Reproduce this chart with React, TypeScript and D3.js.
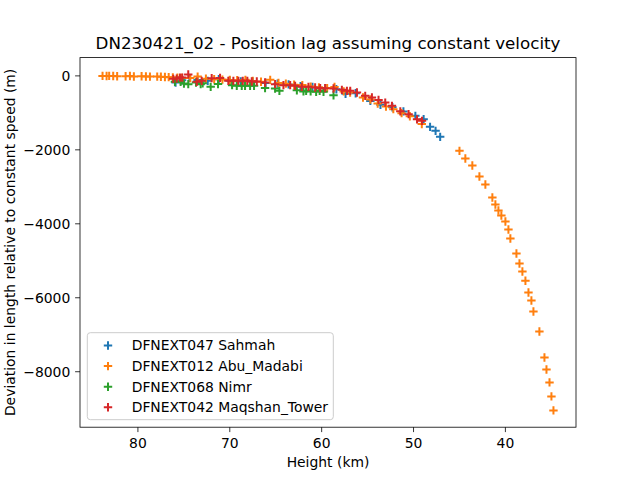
import React from "react";
import * as d3 from "d3";

// heights (km) and position lag (m) per station
const sahmahHeight = [75.9, 75.2, 74.4, 73.5, 72.4, 71.2, 70.0, 68.8, 67.5, 66.1, 64.8, 63.6, 62.3, 61.0, 59.6, 58.4, 57.4, 56.3, 54.7, 53.6, 52.3, 51.1, 49.8, 48.9, 48.2, 47.6, 47.1];
const sahmahLag = [-181, -120, -60, -110, -135, -90, -130, -150, -160, -190, -210, -230, -280, -300, -330, -360, -486, -470, -676, -784, -850, -960, -1081, -1170, -1378, -1486, -1649];

const abuMadabiHeight = [
  83.85, 83.41, 83.13, 82.69, 82.26, 81.34, 80.87, 80.44, 79.6, 79.13, 78.69, 77.9, 77.5, 77.06, 76.65,
  76.2, 75.7, 75.2, 74.3, 73.5, 72.6, 71.7, 70.8, 70.0, 69.2, 68.3, 67.5, 66.6, 65.6, 64.7, 63.9, 63.0,
  62.1, 61.2, 60.3, 59.4, 58.6, 57.6, 56.9, 55.5, 54.7, 53.9, 53.0, 52.2, 51.3, 50.4, 49.1,
  45.0, 44.36, 43.6, 42.83, 42.18, 41.42, 41.09, 40.76, 40.44, 40.0, 39.67, 39.46, 38.8, 38.47, 38.15,
  37.82, 37.49, 37.17, 36.95, 36.3, 35.75, 35.53, 35.2, 34.99, 34.77
];
const abuMadabiLag = [
  0, -5, 0, -5, -10, -10, -5, -15, -10, -15, -20, -20, -25, -30, -35,
  -40, -50, -55, -60, -20, -75, -90, -100, -110, -115, -108, -140, -160, -108, -190, -210, -240,
  -250, -290, -310, -330, -300, -420, -451, -586, -640, -748, -830, -900, -1008, -1090, -1300,
  -2027, -2235, -2424, -2722, -2938, -3289, -3478, -3641, -3776, -3938, -4154, -4397, -4803, -5073, -5289,
  -5541, -5857, -6073, -6370, -6911, -7614, -7938, -8289, -8668, -9046
];

const nimrHeight = [75.97, 75.35, 74.99, 74.52, 73.68, 73.17, 72.95, 72.08, 71.28, 69.75, 69.24, 68.7, 68.34, 67.79, 67.36, 66.16, 65.07, 64.6, 62.7, 61.98, 61.69, 61.2, 60.6, 60.22, 59.8, 58.71];
const nimrLag = [-162, -162, -208, -224, -180, -224, -200, -297, -220, -251, -270, -270, -270, -270, -270, -330, -340, -405, -390, -420, -405, -420, -432, -405, -432, -522];

const maqshanHeight = [76.15, 75.78, 75.42, 75.17, 74.52, 73.6, 73.06, 71.97, 71.06, 70.16, 69.61, 69.07, 68.59, 68.09, 67.61, 67.06, 66.16, 65.07, 64.16, 63.43, 62.89, 62.16, 61.44, 60.71, 60.16, 59.62, 58.71, 57.8, 57.25, 56.89, 56.16, 55.26, 54.53, 53.81, 53.08, 52.35, 51.44, 50.54, 49.62, 49.08];
const maqshanLag = [-81, -73, -46, -46, 40, -157, -135, -62, -54, -135, -135, -135, -135, -135, -154, -154, -181, -224, -251, -251, -270, -297, -297, -316, -332, -332, -343, -378, -405, -405, -451, -540, -586, -649, -722, -811, -959, -1035, -1176, -1216];

const seriesNames = ["DFNEXT047 Sahmah", "DFNEXT012 Abu_Madabi", "DFNEXT068 Nimr", "DFNEXT042 Maqshan_Tower"];
const seriesColors = ["#1f77b4", "#ff7f0e", "#2ca02c", "#d62728"];
const heights = [sahmahHeight, abuMadabiHeight, nimrHeight, maqshanHeight];
const lags = [sahmahLag, abuMadabiLag, nimrLag, maqshanLag];

const xTicks = [80, 70, 60, 50, 40];
const yTicks = [0, -2000, -4000, -6000, -8000];

const W = 640;
const H = 480;
const left = 80;
const right = 576;
const top = 57.6;
const bottom = 427.2;
const font = "DejaVu Sans";

// matplotlib-style 5% padding around the data
function padded(values: number[]): [number, number] {
  const lo = d3.min(values) as number;
  const hi = d3.max(values) as number;
  const m = (hi - lo) * 0.05;
  return [lo - m, hi + m];
}

export default function App() {
  const [hLo, hHi] = padded(heights.flat());
  const [vLo, vHi] = padded(lags.flat());
  const x = d3.scaleLinear().domain([hHi, hLo]).range([left, right]);
  const y = d3.scaleLinear().domain([vLo, vHi]).range([bottom, top]);
  const fmt = (v: number) => String(v).replace("-", "\u2212");

  const cross = (cx: number, cy: number, color: string, key: string) => (
    <path
      key={key}
      d={`M${cx - 4.2},${cy}H${cx + 4.2}M${cx},${cy - 4.2}V${cy + 4.2}`}
      stroke={color}
      strokeWidth={2}
      fill="none"
    />
  );

  return (
    <svg width={W} height={H} style={{ position: "absolute", left: 0, top: 0, background: "#fff" }} fontFamily={font}>
      <rect x={0} y={0} width={W} height={H} fill="#fff" />
      <g>
        {heights.map((hs, s) =>
          hs.map((h, i) => cross(x(h), y(lags[s][i]), seriesColors[s], `${s}-${i}`))
        )}
      </g>
      <rect x={left} y={top} width={right - left} height={bottom - top} fill="none" stroke="#000" strokeWidth={0.8} />
      {xTicks.map((t) => (
        <g key={`x${t}`}>
          <line x1={x(t)} x2={x(t)} y1={bottom} y2={bottom + 4.9} stroke="#000" strokeWidth={0.8} />
          <text x={x(t)} y={448} fontSize={13.9} textAnchor="middle">{t}</text>
        </g>
      ))}
      {yTicks.map((t) => (
        <g key={`y${t}`}>
          <line x1={left - 4.9} x2={left} y1={y(t)} y2={y(t)} stroke="#000" strokeWidth={0.8} />
          <text x={70.3} y={y(t)} dy="0.35em" fontSize={13.9} textAnchor="end">{fmt(t)}</text>
        </g>
      ))}
      <text x={(left + right) / 2} y={49} fontSize={16.7} textAnchor="middle">
        DN230421_02 - Position lag assuming constant velocity
      </text>
      <text x={(left + right) / 2} y={467} fontSize={13.9} textAnchor="middle">Height (km)</text>
      <text
        transform={`translate(15,${(top + bottom) / 2}) rotate(-90)`}
        fontSize={13.9}
        textAnchor="middle"
      >
        Deviation in length relative to constant speed (m)
      </text>
      <g>
        <rect x={87.3} y={332.7} width={246} height={87} rx={3} fill="#fff" fillOpacity={0.8} stroke="#ccc" strokeWidth={1} />
        {seriesNames.map((name, i) => {
          const cy = 345.5 + i * 20.6;
          return (
            <g key={name}>
              {cross(108, cy, seriesColors[i], `lg${i}`)}
              <text x={131.7} y={cy} dy="0.35em" fontSize={13.9}>{name}</text>
            </g>
          );
        })}
      </g>
    </svg>
  );
}
